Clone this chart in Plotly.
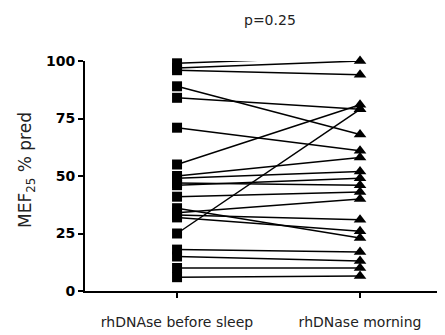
import plotly.graph_objects as go

categories = ["rhDNAse before sleep", "rhDNase morning"]
before_sleep = [99, 97, 96, 89, 84, 71, 55, 50, 49, 47, 46, 41, 36, 34, 33, 32, 25, 18, 15, 10, 6]
morning = [102, 100, 94, 68, 79, 61, 81, 58, 52, 46, 49, 43, 23, 40, 31, 26, 79, 17, 13, 10, 6.5]
y_ticks = [0, 25, 50, 75, 100]
p_label = "p=0.25"

# page body has an 8px margin; figure sized to fill the rest of the window
OFF = 8
W, H = 445 - OFF, 335 - OFF
L, T = 85 - OFF, 61 - OFF
R = W - (440 - OFF)
B = H - (291 - OFF)
pw, ph = W - L - R, H - T - B

fig = go.Figure()
for b, m in zip(before_sleep, morning):
    fig.add_trace(go.Scatter(x=[0, 1], y=[b, m], mode="lines",
                             line=dict(color="black", width=1.5),
                             showlegend=False, hoverinfo="skip", cliponaxis=False))
fig.add_trace(go.Scatter(x=[0] * len(before_sleep), y=before_sleep, mode="markers",
                         marker=dict(symbol="square", size=10, color="black"),
                         showlegend=False, cliponaxis=False))
fig.add_trace(go.Scatter(x=[1] * len(morning), y=morning, mode="markers",
                         marker=dict(symbol="triangle-up", size=11, color="black"),
                         showlegend=False, cliponaxis=False))

fig.update_layout(
    width=W, height=H,
    margin=dict(l=L, r=R, t=T, b=B, autoexpand=False),
    paper_bgcolor="white", plot_bgcolor="white",
    font=dict(family="DejaVu Sans, Liberation Sans, sans-serif", color="black"),
    xaxis=dict(range=[-0.503, 1.437], tickvals=[0, 1], ticktext=categories,
               automargin=False,
               showgrid=False, zeroline=False, showline=True, linecolor="black",
               linewidth=2, ticks="outside", ticklen=5, tickwidth=2, tickcolor="black",
               ticklabelstandoff=12,
               tickfont=dict(size=14, color="#222")),
    yaxis=dict(range=[0, 100], tickvals=y_ticks, showgrid=False, zeroline=False,
               automargin=False,
               showline=True, linecolor="black", linewidth=2, ticks="outside",
               ticklen=5, tickwidth=2, tickcolor="black",
               tickfont=dict(size=14, weight="bold")),
    annotations=[
        dict(text=p_label, x=(270 - OFF - L) / pw, y=1 + (T - (20 - OFF)) / ph,
             xref="paper", yref="paper", showarrow=False, xanchor="center", yanchor="middle",
             font=dict(size=14, color="#222")),
        dict(text="MEF<sub>25</sub> % pred", x=-(L - (26 - OFF)) / pw,
             y=(H - B - (170 - OFF)) / ph,
             xref="paper", yref="paper", showarrow=False, textangle=-90,
             xanchor="center", yanchor="middle", font=dict(size=17, color="#222")),
    ],
)
fig.write_html("out.html")
